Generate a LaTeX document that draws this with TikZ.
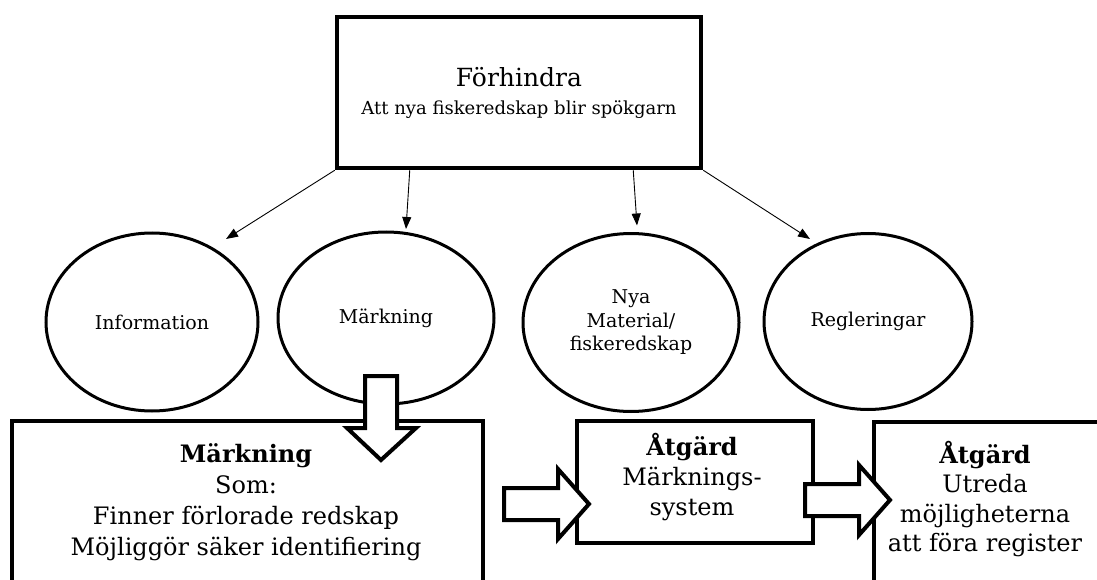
\documentclass[tikz,border=0pt]{standalone}
\usepackage{fontspec}
\setmainfont{DejaVu Serif}
\usetikzlibrary{shapes.geometric,arrows.meta}
\begin{document}
\begin{tikzpicture}[x=1pt,y=-1pt,
  goalbox/.style={draw, line width=4.5pt, inner sep=0pt, align=center},
  oval/.style={draw, ellipse, line width=3pt, inner sep=0pt, align=center,
    font=\fontsize{19}{23.5}\selectfont},
  framebox/.style={draw, line width=4pt, inner sep=0pt, fill=white},
  boxtext/.style={align=center, inner sep=0pt},
  thinarrow/.style={line width=0.9pt, -{Triangle[length=12pt,width=9pt]}},
  blockarrow/.style={draw, line width=4pt, fill=white, line join=miter}]
\useasboundingbox (0,0) rectangle (1097,580);
\fill[white] (0,0) rectangle (1097,580);
\clip (0,0) rectangle (1097,580);

% goal
\node[goalbox, minimum width=364pt, minimum height=151pt,
  font=\fontsize{18}{28}\selectfont] (goal) at (519,92.5)
  {{\fontsize{25}{28}\selectfont Förhindra}\\
   Att nya fiskeredskap blir spökgarn};

% the four areas
\node[oval, minimum width=212pt, minimum height=178pt] (info) at (152,322) {Information};
\node[oval, minimum width=216pt, minimum height=172pt] (mark) at (386,318) {Märkning};
\node[oval, minimum width=216pt, minimum height=178pt] (nya)  at (631,322.5)
  {Nya\\Material/\\fiskeredskap};
\node[oval, minimum width=208pt, minimum height=176pt] (regl) at (868,321.5) {Regleringar};

% thin arrows from the goal to the areas
\draw[thinarrow] (goal.south west) -- ([shift={(74,-83)}]info.center);
\draw[thinarrow] ([xshift=75pt]goal.south west) -- ([shift={(20,-89)}]mark.center);
\draw[thinarrow] ([xshift=-70pt]goal.south east) -- ([shift={(6,-97)}]nya.center);
\draw[thinarrow] (goal.south east) -- ([shift={(-58,-82.5)}]regl.center);

% bottom boxes
\node[framebox, anchor=north west, minimum width=471pt, minimum height=200pt] (mbox) at (10,419) {};
\node[framebox, anchor=north west, minimum width=236pt, minimum height=122pt] (abox) at (575,419) {};
\node[framebox, anchor=north west, minimum width=260pt, minimum height=200pt] (rbox) at (872,420) {};

\node[boxtext, font=\fontsize{24}{31}\selectfont] (mtext) at (246,502)
  {\textbf{Märkning}\\Som:\\Finner förlorade redskap\\Möjliggör säker identifiering};
\node[boxtext, font=\fontsize{24}{30}\selectfont] (atext) at (692,477)
  {\textbf{Åtgärd}\\Märknings-\\system};
\node[boxtext, font=\fontsize{24}{29.5}\selectfont] (rtext) at (985,499)
  {\textbf{Åtgärd}\\Utreda\\möjligheterna\\att föra register};

% block arrows
\draw[blockarrow] (365,376) -- (397,376) -- (397,428) -- (416,428) -- (381,460)
  -- (347,428) -- (365,428) -- cycle;
\draw[blockarrow] (504,488) -- (558,488) -- (558,469) -- (589,504) -- (558,539)
  -- (558,520) -- (504,520) -- cycle;
\draw[blockarrow] (805,484) -- (859,484) -- (859,465) -- (890,500) -- (859,535)
  -- (859,516) -- (805,516) -- cycle;
\end{tikzpicture}
\end{document}
